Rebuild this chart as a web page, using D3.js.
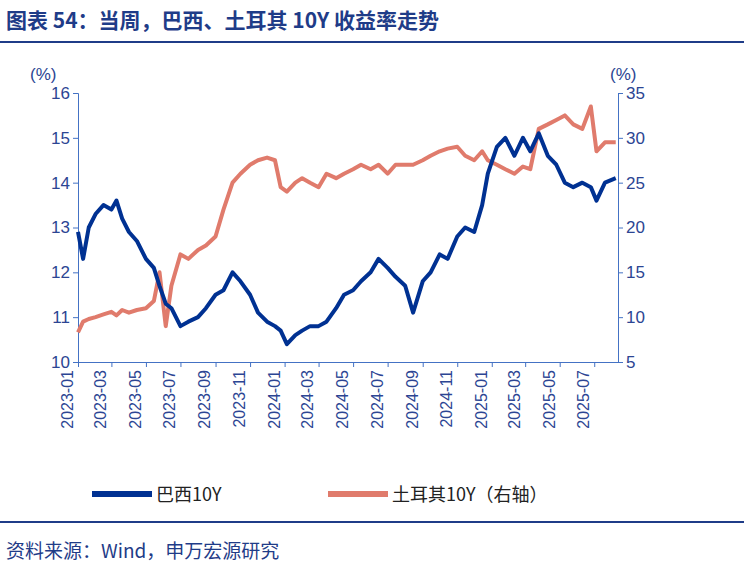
<!DOCTYPE html>
<html><head><meta charset="utf-8">
<script src="https://cdn.jsdelivr.net/npm/d3@7"></script>
<style>body{margin:0;background:#fff;font-family:"Noto Sans CJK SC","Liberation Sans",sans-serif}</style>
</head><body><svg id="c" width="744" height="573"></svg>
<script>
const dates=["2023-01-01","2023-01-10","2023-01-20","2023-02-01","2023-02-15","2023-03-01","2023-03-10","2023-03-20","2023-04-01","2023-04-15","2023-05-01","2023-05-15","2023-05-25","2023-06-05","2023-06-15","2023-07-01","2023-07-15","2023-08-01","2023-08-15","2023-09-01","2023-09-15","2023-10-01","2023-10-15","2023-11-01","2023-11-15","2023-12-01","2023-12-15","2023-12-25","2024-01-05","2024-01-20","2024-02-01","2024-02-15","2024-03-01","2024-03-15","2024-04-01","2024-04-15","2024-05-01","2024-05-15","2024-06-01","2024-06-15","2024-07-01","2024-07-15","2024-08-01","2024-08-15","2024-09-01","2024-09-15","2024-10-01","2024-10-15","2024-11-01","2024-11-15","2024-12-01","2024-12-15","2024-12-25","2025-01-10","2025-01-25","2025-02-10","2025-02-25","2025-03-10","2025-03-25","2025-04-10","2025-04-25","2025-05-10","2025-05-25","2025-06-10","2025-06-25","2025-07-05","2025-07-20","2025-08-08"];
const brazil=[12.9,12.3,13.0,13.3,13.5,13.4,13.6,13.2,12.9,12.7,12.3,12.1,11.7,11.3,11.2,10.8,10.9,11.0,11.2,11.5,11.6,12.0,11.8,11.5,11.1,10.9,10.8,10.7,10.4,10.6,10.7,10.8,10.8,10.9,11.2,11.5,11.6,11.8,12.0,12.3,12.1,11.9,11.7,11.1,11.8,12.0,12.4,12.3,12.8,13.0,12.9,13.5,14.2,14.8,15.0,14.6,15.0,14.7,15.1,14.6,14.4,14.0,13.9,14.0,13.9,13.6,14.0,14.1];
const turkey=[8.3,9.5,9.8,10.0,10.3,10.6,10.2,10.8,10.5,10.8,11.0,11.8,15.0,9.0,13.5,17.0,16.5,17.5,18.0,19.0,22.0,25.0,26.0,27.0,27.5,27.8,27.5,24.5,24.0,25.0,25.5,25.0,24.5,26.0,25.5,26.0,26.5,27.0,26.5,27.0,26.0,27.0,27.0,27.0,27.5,28.0,28.5,28.8,29.0,28.0,27.5,28.5,27.5,27.0,26.5,26.0,26.8,26.5,31.0,31.5,32.0,32.5,31.5,31.0,33.5,28.5,29.5,29.5];
const leftTicks=[10,11,12,13,14,15,16], rightTicks=[5,10,15,20,25,30,35];
const xTicks=["2023-01","2023-03","2023-05","2023-07","2023-09","2023-11","2024-01","2024-03","2024-05","2024-07","2024-09","2024-11","2025-01","2025-03","2025-05","2025-07"];
const P=d3.timeParse("%Y-%m-%d"), PM=d3.timeParse("%Y-%m");
const svg=d3.select("#c");
const axC="#4472c4", txC="#2c4593";
const x=d3.scaleTime().domain([P("2023-01-01"),P("2025-08-12")]).range([78,618]);
const yl=d3.scaleLinear().domain([10,16]).range([362,93]);
const yr=d3.scaleLinear().domain([5,35]).range([362,93]);
svg.append("text").attr("x",6).attr("y",28).attr("font-size",21).attr("font-weight","bold").attr("fill","#1f3c88").text("图表 54：当周，巴西、土耳其 10Y 收益率走势");
svg.append("line").attr("x1",0).attr("x2",744).attr("y1",42).attr("y2",42).attr("stroke","#1f3c88").attr("stroke-width",2);
svg.append("line").attr("x1",0).attr("x2",744).attr("y1",522).attr("y2",522).attr("stroke","#1f3c88").attr("stroke-width",2);
svg.append("text").attr("x",6).attr("y",558).attr("font-size",19).attr("fill","#1f3c88").text("资料来源：Wind，申万宏源研究");
const gl=svg.append("g").attr("transform","translate(78,0)").call(d3.axisLeft(yl).tickValues(leftTicks).tickSize(5).tickFormat(d3.format("d")));
const gr=svg.append("g").attr("transform","translate(618,0)").call(d3.axisRight(yr).tickValues(rightTicks).tickSize(5).tickFormat(d3.format("d")));
const gx=svg.append("g").attr("transform","translate(0,362)").call(d3.axisBottom(x).tickValues(xTicks.map(PM)).tickSize(5).tickFormat(d3.timeFormat("%Y-%m")));
[gl,gr,gx].forEach(g=>{g.selectAll("path,line").attr("stroke",axC);g.selectAll("text").attr("fill",txC).attr("font-size",17).attr("font-family","Liberation Sans,sans-serif");});
gx.select(".domain").attr("d","M78,0.5H618");
gx.selectAll("text").attr("transform","rotate(-90)").attr("text-anchor","end").attr("dx","-0.5em").attr("dy","-0.35em").attr("x",0).attr("y",0).attr("font-size",16);
gl.selectAll("text").attr("x",-8);gr.selectAll("text").attr("x",8);
svg.append("text").attr("x",30).attr("y",80).attr("font-size",17).attr("fill",txC).attr("font-family","Liberation Sans").text("(%)");
svg.append("text").attr("x",610).attr("y",80).attr("font-size",17).attr("fill",txC).attr("font-family","Liberation Sans").text("(%)");
const ln=(ys,vals)=>d3.line().x((d,i)=>x(P(dates[i]))).y((d,i)=>ys(vals[i])).curve(d3.curveLinear);
svg.append("path").attr("d",ln(yr,turkey)(turkey)).attr("fill","none").attr("stroke","#e07b6c").attr("stroke-width",4).attr("stroke-linejoin","round");
svg.append("path").attr("d",ln(yl,brazil)(brazil)).attr("fill","none").attr("stroke","#003192").attr("stroke-width",4).attr("stroke-linejoin","round");
const lg=[["巴西10Y","#003192",92],["土耳其10Y（右轴）","#e07b6c",328]];
lg.forEach(([t,c,lx])=>{svg.append("line").attr("x1",lx).attr("x2",lx+60).attr("y1",494).attr("y2",494).attr("stroke",c).attr("stroke-width",6);
svg.append("text").attr("x",lx+64).attr("y",501).attr("font-size",18).attr("fill","#222").text(t);});
</script></body></html>
